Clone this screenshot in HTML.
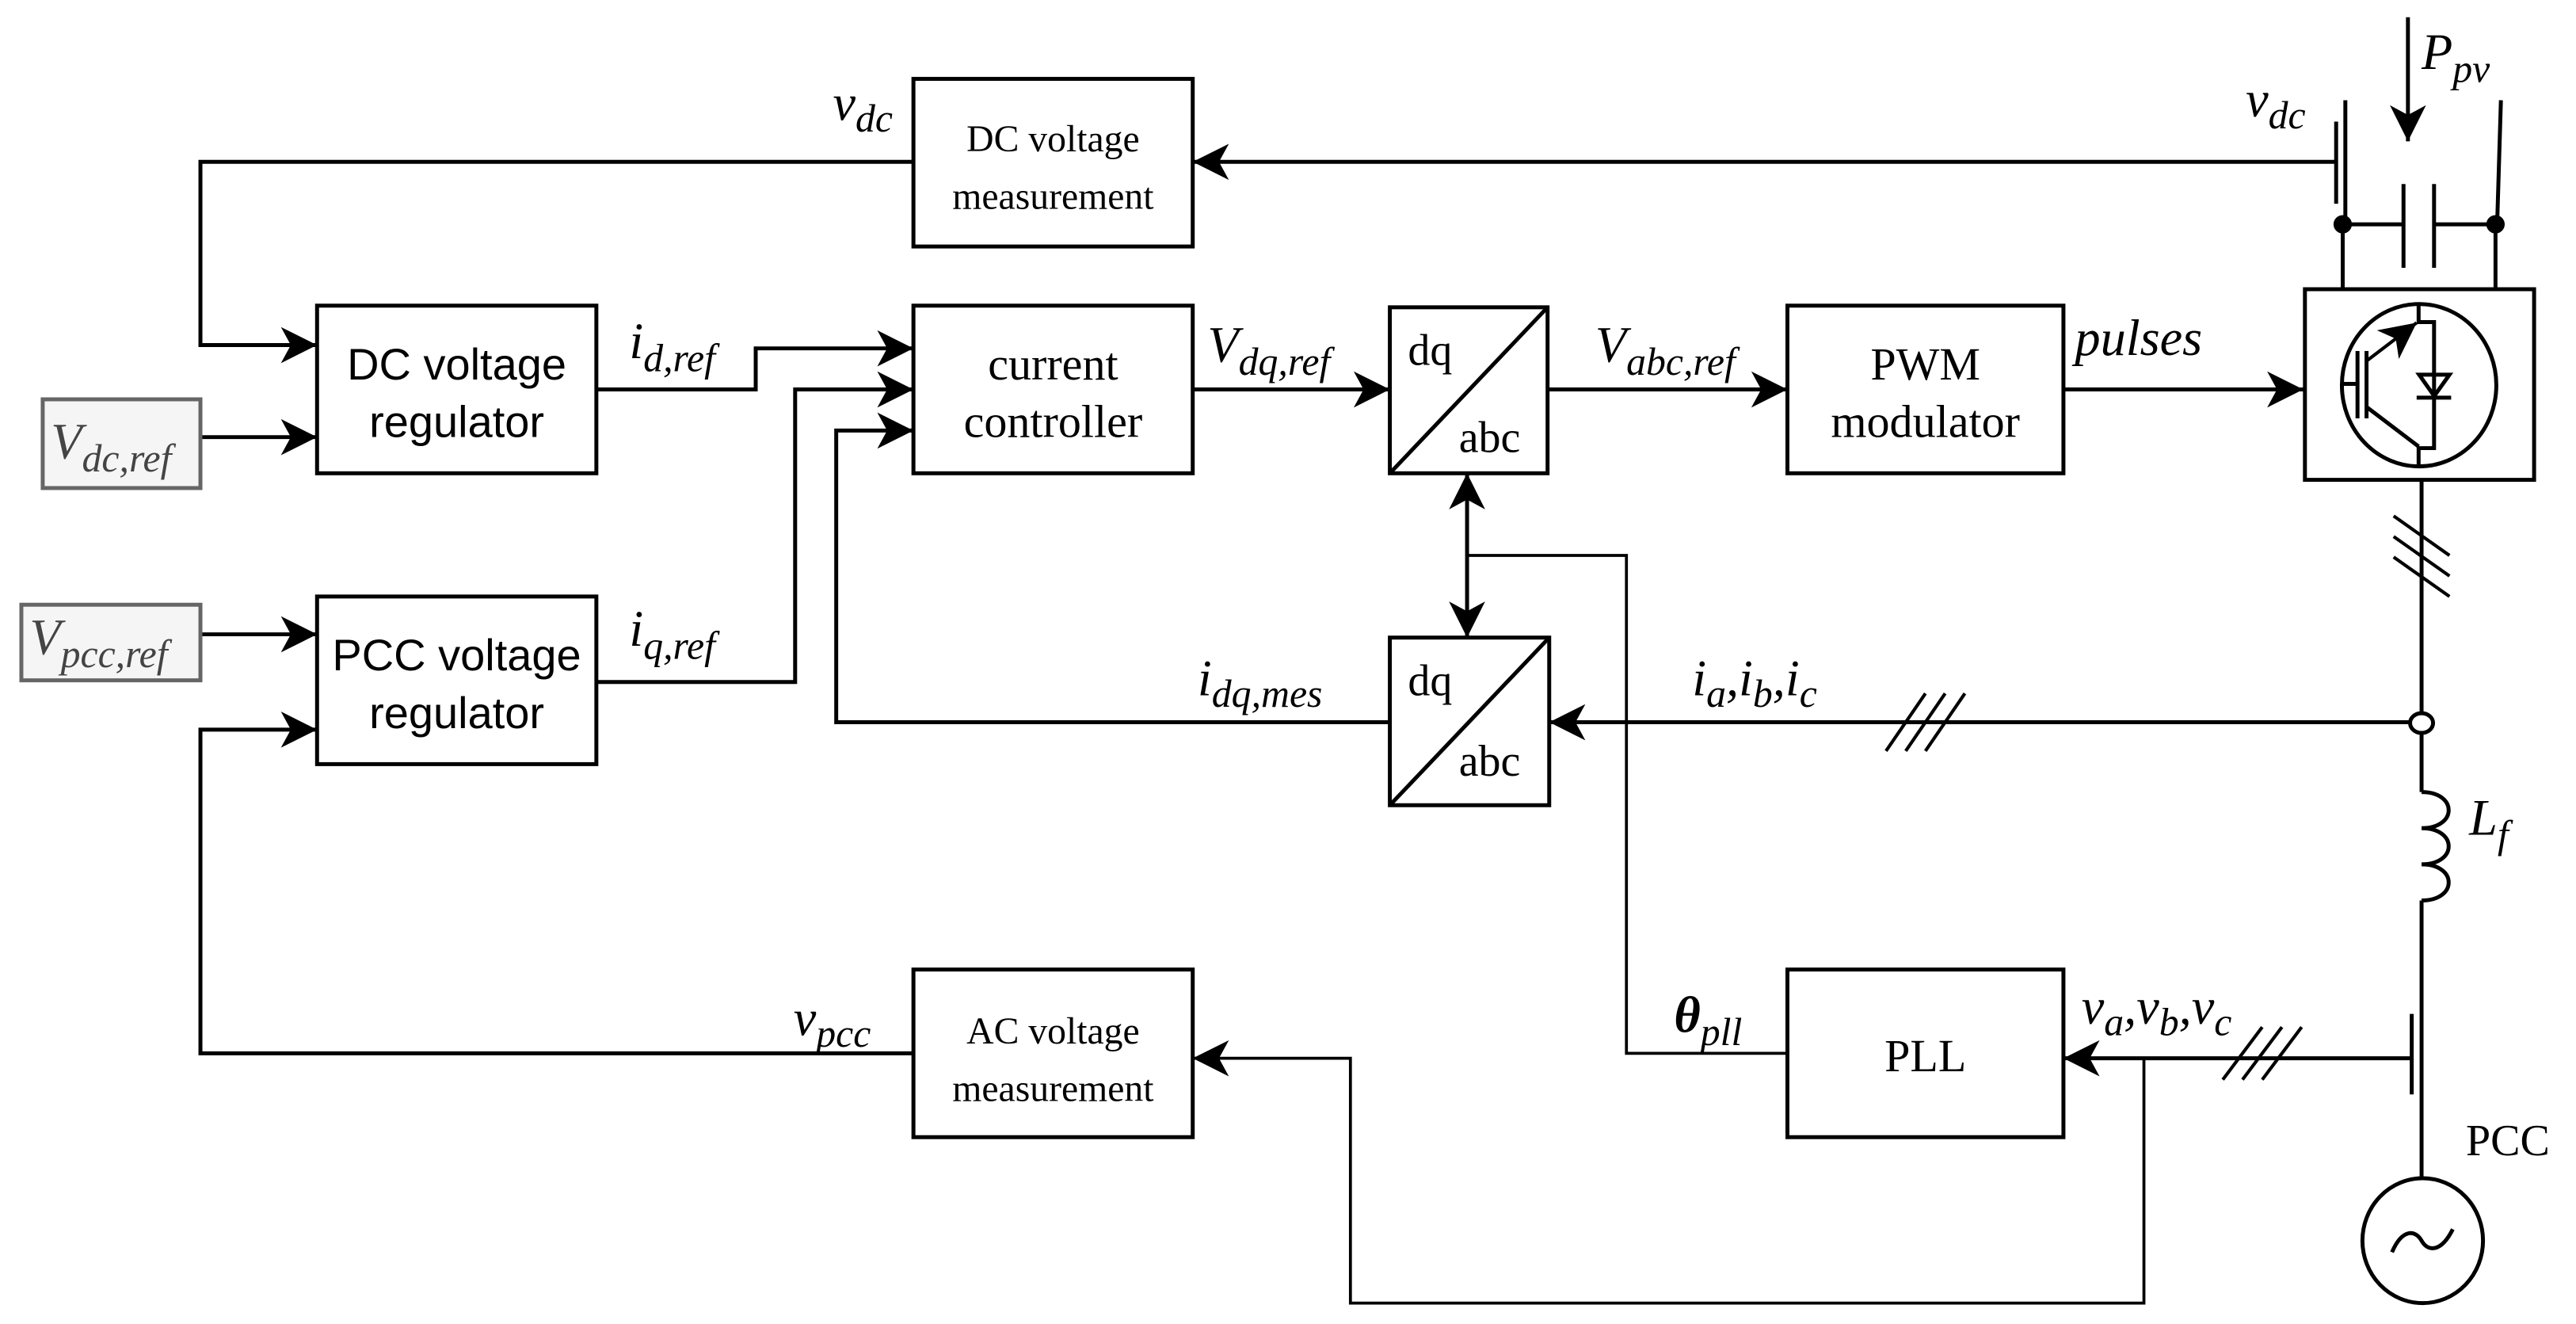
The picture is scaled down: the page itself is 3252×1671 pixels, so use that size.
<!DOCTYPE html>
<html><head><meta charset="utf-8"><style>
html,body{margin:0;padding:0;background:#fff;}
svg{display:block;}
.s{font-family:"Liberation Serif",serif;}
.a{font-family:"Liberation Sans",sans-serif;}
.i{font-family:"Liberation Serif",serif;font-style:italic;}
</style></head><body>
<svg width="3252" height="1671" viewBox="0 0 1568 805.7" preserveAspectRatio="none" xmlns="http://www.w3.org/2000/svg">
<defs>
<marker id="ar" markerUnits="userSpaceOnUse" markerWidth="30" markerHeight="30" viewBox="-25 -15 30 30" refX="0" refY="0" orient="auto">
<path d="M0,0 L-22,-11 L-16,0 L-22,11 Z" fill="#000"/>
</marker>
</defs>
<g fill="none" stroke="#000" stroke-width="2.4">
<rect x="556" y="48" width="170" height="102"/>
<rect x="193" y="186" width="170" height="102"/>
<rect x="556" y="186" width="170" height="102"/>
<rect x="846" y="187" width="96" height="101"/>
<line x1="846" y1="288" x2="942" y2="187"/>
<rect x="1088" y="186" width="168" height="102"/>
<rect x="193" y="363" width="170" height="102"/>
<rect x="846" y="388" width="97" height="102"/>
<line x1="846" y1="490" x2="943" y2="388"/>
<rect x="556" y="590" width="170" height="102"/>
<rect x="1088" y="590" width="168" height="102"/>
<rect x="1403" y="176" width="139.5" height="116"/>
<polyline points="556,98.5 122,98.5 122,210 193,210" marker-end="url(#ar)"/>
<line x1="1422" y1="98.5" x2="726" y2="98.5" marker-end="url(#ar)"/>
<line x1="122" y1="266" x2="193" y2="266" marker-end="url(#ar)"/>
<polyline points="363,237 460,237 460,212 556,212" marker-end="url(#ar)"/>
<polyline points="363,415 484,415 484,237 556,237" marker-end="url(#ar)"/>
<polyline points="846,439.5 509,439.5 509,262 556,262" marker-end="url(#ar)"/>
<line x1="122" y1="386" x2="193" y2="386" marker-end="url(#ar)"/>
<polyline points="556,641 122,641 122,444 193,444" marker-end="url(#ar)"/>
<line x1="726" y1="237" x2="846" y2="237" marker-end="url(#ar)"/>
<line x1="942" y1="237" x2="1088" y2="237" marker-end="url(#ar)"/>
<line x1="1256" y1="237" x2="1402" y2="237" marker-end="url(#ar)"/>
<line x1="893" y1="338" x2="893" y2="288" marker-end="url(#ar)"/>
<line x1="893" y1="338" x2="893" y2="388" marker-end="url(#ar)"/>
<polyline points="893,338 990,338 990,641 1088,641" stroke-width="1.8"/>
<line x1="1467" y1="439.5" x2="943" y2="439.5" marker-end="url(#ar)"/>
<line x1="1468" y1="644" x2="1256" y2="644" marker-end="url(#ar)"/>
<polyline points="1305,644 1305,793 822,793 822,644 726,644" stroke-width="1.8" marker-end="url(#ar)"/>
<g stroke-width="2">
<line x1="1148" y1="457" x2="1172" y2="422"/>
<line x1="1160" y1="457" x2="1184" y2="422"/>
<line x1="1172" y1="457" x2="1196" y2="422"/>
<line x1="1353" y1="657" x2="1377" y2="625"/>
<line x1="1365" y1="657" x2="1389" y2="625"/>
<line x1="1377" y1="657" x2="1401" y2="625"/>
<line x1="1457" y1="314" x2="1491" y2="338"/>
<line x1="1457" y1="326.5" x2="1491" y2="350.5"/>
<line x1="1457" y1="339" x2="1491" y2="363"/>
</g>
<line x1="1427.6" y1="61" x2="1427.6" y2="136"/>
<line x1="1426" y1="136" x2="1426" y2="176"/>
<line x1="1422" y1="74" x2="1422" y2="124"/>
<line x1="1426" y1="136.5" x2="1463" y2="136.5"/>
<line x1="1481.6" y1="136.5" x2="1519" y2="136.5"/>
<line x1="1463" y1="112" x2="1463" y2="163"/>
<line x1="1481.6" y1="112" x2="1481.6" y2="163"/>
<line x1="1522.3" y1="61" x2="1520" y2="136.5"/>
<line x1="1519" y1="136.5" x2="1519" y2="176"/>
<line x1="1465.7" y1="10.5" x2="1465.7" y2="86" marker-end="url(#ar)"/>
<ellipse cx="1472.5" cy="234.4" rx="47" ry="49.4"/>
<polyline points="1472.2,185 1472.2,196 1481.6,196 1481.6,272.7 1472.2,272.7 1472.2,284"/>
<line x1="1441" y1="219.3" x2="1471" y2="196.4" marker-end="url(#ar)" stroke-width="2"/>
<line x1="1441" y1="248" x2="1472.2" y2="271.7"/>
<line x1="1435" y1="213.6" x2="1435" y2="254.6"/>
<line x1="1440.5" y1="213.6" x2="1440.5" y2="254.6"/>
<line x1="1425.6" y1="233.6" x2="1435" y2="233.6"/>
<path d="M1472.5,228 L1491,228 L1481.7,241 Z"/>
<line x1="1471" y1="242" x2="1492" y2="242"/>
<line x1="1474" y1="292" x2="1474" y2="433"/>
<ellipse cx="1474" cy="440" rx="7" ry="6" fill="#fff"/>
<line x1="1474" y1="446" x2="1474" y2="482"/>
<path d="M1474,482 c22,0 22,22 0,22 c22,0 22,22 0,22 c22,0 22,22 0,22"/>
<line x1="1474" y1="548" x2="1474" y2="717"/>
<line x1="1468" y1="617" x2="1468" y2="666"/>
<ellipse cx="1474.7" cy="755" rx="36.7" ry="38"/>
<path d="M1456,762 C1462,748 1470,748 1474,755 C1478,762 1486,762 1493,748"/>
</g>
<circle cx="1426" cy="136.5" r="5.6"/>
<circle cx="1519" cy="136.5" r="5.6"/>
<rect x="26" y="243" width="96" height="54" fill="#f5f5f5" stroke="#666" stroke-width="2.4"/>
<rect x="13" y="368" width="109" height="46" fill="#f5f5f5" stroke="#666" stroke-width="2.4"/>
<g class="s" font-size="23" text-anchor="middle">
<text x="641" y="92">DC voltage</text>
<text x="641" y="127">measurement</text>
<text x="641" y="635">AC voltage</text>
<text x="641" y="670">measurement</text>
</g>
<g class="a" font-size="27" text-anchor="middle">
<text x="278" y="231">DC voltage</text>
<text x="278" y="266">regulator</text>
<text x="278" y="408">PCC voltage</text>
<text x="278" y="443">regulator</text>
</g>
<g class="s" font-size="28" text-anchor="middle">
<text x="641" y="231">current</text>
<text x="641" y="266">controller</text>
<text x="1172" y="231">PWM</text>
<text x="1172" y="266">modulator</text>
<text x="1172" y="652">PLL</text>
</g>
<g class="s" font-size="27">
<text x="857" y="222">dq</text>
<text x="888" y="275">abc</text>
<text x="857" y="423">dq</text>
<text x="888" y="472">abc</text>
<text x="1501" y="703">PCC</text>
</g>
<g class="i" font-size="31">
<text x="507" y="73">v<tspan font-size="24" dy="7">dc</tspan></text>
<text x="1367" y="71">v<tspan font-size="24" dy="7">dc</tspan></text>
<text x="1474" y="42">P<tspan font-size="24" dy="8">pv</tspan></text>
<text x="31" y="279" fill="#444">V<tspan font-size="24" dy="8">dc,ref</tspan></text>
<text x="18" y="398" fill="#444">V<tspan font-size="24" dy="8">pcc,ref</tspan></text>
<text x="383" y="218">i<tspan font-size="24" dy="8">d,ref</tspan></text>
<text x="383" y="393">i<tspan font-size="24" dy="8">q,ref</tspan></text>
<text x="735" y="220">V<tspan font-size="24" dy="8">dq,ref</tspan></text>
<text x="971" y="220">V<tspan font-size="24" dy="8">abc,ref</tspan></text>
<text x="1263" y="216">pulses</text>
<text x="729" y="423">i<tspan font-size="24" dy="7">dq,mes</tspan></text>
<text x="1030" y="423">i<tspan font-size="24" dy="7">a</tspan><tspan dy="-7">,i</tspan><tspan font-size="24" dy="7">b</tspan><tspan dy="-7">,i</tspan><tspan font-size="24" dy="7">c</tspan></text>
<text x="1503" y="508">L<tspan font-size="24" dy="8">f</tspan></text>
<text x="483" y="630">v<tspan font-size="24" dy="7">pcc</tspan></text>
<text x="1019" y="628" font-weight="bold">θ<tspan font-size="24" dy="8" font-weight="normal">pll</tspan></text>
<text x="1267" y="623">v<tspan font-size="24" dy="7">a</tspan><tspan dy="-7">,v</tspan><tspan font-size="24" dy="7">b</tspan><tspan dy="-7">,v</tspan><tspan font-size="24" dy="7">c</tspan></text>
</g>
</svg>
</body></html>
